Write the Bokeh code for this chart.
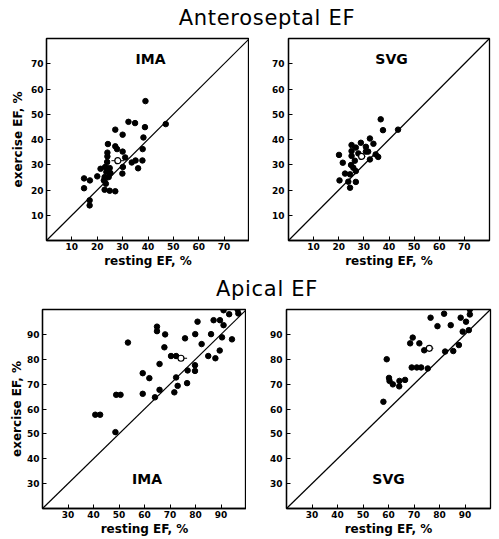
from bokeh.plotting import figure
from bokeh.models import Range1d, FixedTicker, Slope, Label, Div
from bokeh.layouts import column, row
from bokeh.embed import file_html
from bokeh.resources import INLINE

# ---------------- data ----------------
# Anteroseptal EF, IMA
as_ima_rest = [39, 47, 32.3, 34.9, 27.1, 30.0, 38.8, 38.2, 24.2, 27.1, 27.8, 30.0, 24.0, 24.0,
               31.0, 37.9, 37.8, 35.1, 33.6, 36.1, 30.1, 29.9, 23.9, 23.1, 21.3, 24.9, 23.6,
               25.2, 20.0, 22.9, 24.5, 17.1, 14.8, 22.6, 23.4, 14.8, 22.9, 24.9, 27.1, 17.0, 17.0]
as_ima_exer = [55.2, 46.1, 47.0, 46.5, 43.9, 41.9, 44.9, 40.8, 38.2, 37.3, 36.2, 35.2, 34.8, 33.3,
               32.9, 36.2, 31.7, 31.7, 30.9, 28.6, 29.1, 26.5, 31.1, 29.1, 28.4, 28.7, 27.1,
               26.7, 25.4, 25.1, 25.1, 23.8, 24.6, 23.8, 22.5, 20.7, 20.1, 19.7, 19.5, 15.9, 13.9]
as_ima_mean = [28.1, 31.6, 2.5]  # resting mean, exercise mean, SE of resting

# Anteroseptal EF, SVG
as_svg_rest = [36.7, 37.6, 43.6, 32.4, 28.8, 25.1, 33.8, 30.8, 26.8, 31.7, 25.1, 27.8, 20.1,
               25.1, 34.7, 35.7, 32.4, 26.4, 21.6, 24.9, 25.8, 26.8, 22.5, 24.5, 20.3, 23.8,
               26.8, 24.5, 30.8]
as_svg_exer = [48.0, 43.7, 43.9, 40.4, 38.7, 37.8, 38.3, 37.1, 36.8, 35.2, 35.4, 34.5, 33.9,
               33.5, 34.1, 33.1, 32.1, 31.6, 30.8, 29.9, 28.8, 27.5, 26.5, 26.2, 23.8, 23.3,
               23.2, 20.9, 35.2]
as_svg_mean = [29.1, 33.3, 1.5]

# Apical EF, IMA
ap_ima_rest = [91.0, 93.2, 96.5, 96.8, 80.8, 87.1, 89.6, 91.0, 64.9, 64.9, 68.1, 79.9, 86.1,
               75.9, 90.4, 94.3, 53.5, 82.4, 67.8, 89.5, 70.4, 72.4, 85.0, 87.8, 65.9, 79.8,
               59.3, 76.9, 79.8, 61.9, 72.4, 76.7, 73.0, 65.9, 59.3, 71.7, 64.1, 48.9, 50.6,
               40.7, 42.6, 48.6]
ap_ima_exer = [99.7, 98.1, 100.0, 98.4, 95.1, 95.7, 95.7, 93.7, 93.1, 91.3, 90.0, 90.1, 90.1,
               88.4, 88.8, 88.0, 86.7, 86.1, 84.8, 83.5, 81.3, 81.3, 81.3, 80.4, 78.1, 77.6,
               74.4, 75.5, 75.3, 72.4, 72.7, 70.4, 69.3, 67.7, 66.1, 66.7, 64.7, 65.7, 65.7,
               57.7, 57.7, 50.7]
ap_ima_mean = [74.3, 80.4, 2.4]

# Apical EF, SVG
ap_svg_rest = [91.9, 91.9, 81.8, 76.5, 88.3, 90.4, 79.2, 84.4, 91.5, 89.1, 69.5, 68.5, 72.1,
               74.0, 82.2, 85.4, 87.6, 59.3, 69.1, 71.1, 72.8, 75.4, 60.2, 60.4, 61.7, 64.3,
               66.5, 64.2, 58.0]
ap_svg_exer = [100.0, 98.0, 98.3, 96.7, 96.7, 95.1, 93.3, 93.7, 91.7, 91.1, 88.7, 86.4, 86.4,
               83.6, 83.1, 83.3, 85.7, 80.0, 76.7, 76.7, 76.7, 76.3, 72.5, 71.3, 69.9, 71.3,
               71.7, 69.1, 62.9]
ap_svg_mean = [76.0, 84.4, 1.6]

as_range = [0, 80]
ap_range = [20, 100]
as_ticks = [10, 20, 30, 40, 50, 60, 70]
ap_ticks = [30, 40, 50, 60, 70, 80, 90]

section_titles = ["Anteroseptal EF", "Apical EF"]
x_label = "resting EF, %"
y_label = "exercise EF, %"

FONT = "DejaVu Sans"


def panel(xs, ys, mean, rng, ticks, name, name_xy, show_ylabel,
          width, height, bl, br, bt, bb, ylab_standoff, ytick_standoff):
    p = figure(width=width, height=height, output_backend="svg", toolbar_location=None,
               x_range=Range1d(rng[0], rng[1]), y_range=Range1d(rng[0], rng[1]),
               min_border_left=bl, min_border_right=br, min_border_top=bt,
               min_border_bottom=bb, background_fill_color="white",
               border_fill_color="white")
    p.grid.visible = False
    p.outline_line_color = "black"
    p.outline_line_width = 1.3
    p.outline_line_alpha = 1.0
    for ax in (p.xaxis[0], p.yaxis[0]):
        ax.ticker = FixedTicker(ticks=ticks)
        ax.major_tick_in = 4
        ax.major_tick_out = 0
        ax.minor_tick_line_color = None
        ax.axis_line_color = "black"
        ax.axis_line_width = 1.3
        ax.major_tick_line_color = "black"
        ax.major_tick_line_width = 1
        ax.major_label_text_font = FONT
        ax.major_label_text_font_size = "9px"
        ax.major_label_text_font_style = "bold"
        ax.major_label_text_color = "black"
        ax.axis_label_text_font = FONT
        ax.axis_label_text_font_size = "12px"
        ax.axis_label_text_font_style = "bold"
        ax.axis_label_text_color = "black"
    p.xaxis.major_label_standoff = 2
    p.xaxis.axis_label = x_label
    p.xaxis.axis_label_standoff = 1
    p.yaxis.major_label_standoff = ytick_standoff
    if show_ylabel:
        p.yaxis.axis_label = y_label
        p.yaxis.axis_label_standoff = ylab_standoff

    p.add_layout(Slope(gradient=1, y_intercept=0, line_color="black", line_width=1.2))
    p.scatter(xs, ys, size=5.5, color="black")
    mx, my, se = mean
    p.segment(x0=[mx - se], y0=[my], x1=[mx + se], y1=[my], line_color="black", line_width=1)
    p.scatter([mx], [my], size=6, fill_color="white", line_color="black", line_width=1.2)
    p.add_layout(Label(x=name_xy[0], y=name_xy[1], text=name, text_font=FONT,
                       text_font_size="14px", text_font_style="bold", text_color="black",
                       text_align="center", text_baseline="middle"))
    return p


tl = panel(as_ima_rest, as_ima_exer, as_ima_mean, as_range, as_ticks, "IMA", (41, 72), True,
           249, 248, 46, 0, 8, 38, 3, 3)
tr = panel(as_svg_rest, as_svg_exer, as_svg_mean, as_range, as_ticks, "SVG", (41, 72), False,
           249, 248, 39, 9, 6, 38, 3, 4)
bl = panel(ap_ima_rest, ap_ima_exer, ap_ima_mean, ap_range, ap_ticks, "IMA", (61, 32), True,
           246, 238, 42, 0, 9, 28, 0, 3)
br = panel(ap_svg_rest, ap_svg_exer, ap_svg_mean, ap_range, ap_ticks, "SVG", (60, 32), False,
           252, 238, 40, 8, 9, 28, 0, 4)


def title_div(text, h, pad_top):
    return Div(text=('<div style="width:498px;box-sizing:border-box;padding-left:36px;'
                     'padding-top:%dpx;text-align:center;font-family:\'DejaVu Sans\';'
                     'font-size:21px;letter-spacing:0.7px;line-height:22px;color:black;">'
                     '%s</div>' % (pad_top, text)),
               width=498, height=h, margin=0)


d1 = title_div(section_titles[0], 30, 7)
d2 = title_div(section_titles[1], 22, 0)

layout = column(d1, row(tl, tr), d2, row(bl, br))

open("out.html", "w").write(file_html(layout, INLINE))
